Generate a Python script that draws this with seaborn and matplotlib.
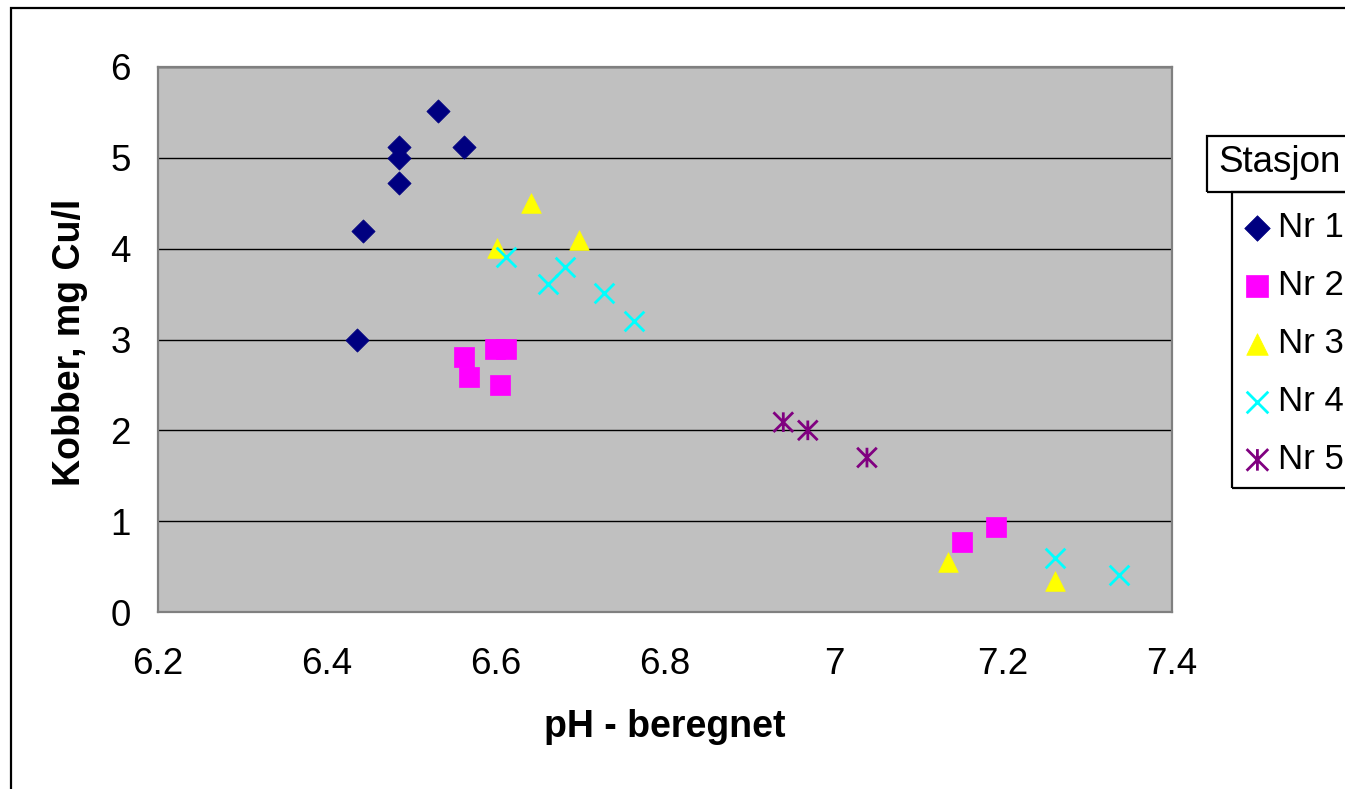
import numpy as np
import pandas as pd
import matplotlib
matplotlib.use('Agg')
import matplotlib.pyplot as plt
import matplotlib.path as mpath
from matplotlib.patches import Rectangle
import seaborn as sns

# Data: pH (x) and copper mg Cu/l (y) per station
ph_nr1 = [6.436, 6.443, 6.485, 6.485, 6.485, 6.531, 6.562]
cu_nr1 = [3.0, 4.2, 5.0, 5.12, 4.72, 5.52, 5.12]

ph_nr2 = [6.562, 6.568, 6.599, 6.612, 6.605, 7.151, 7.192]
cu_nr2 = [2.81, 2.59, 2.9, 2.9, 2.5, 0.77, 0.94]

ph_nr3 = [6.601, 6.641, 6.698, 7.135, 7.262]
cu_nr3 = [4.01, 4.5, 4.1, 0.55, 0.34]

ph_nr4 = [6.612, 6.662, 6.682, 6.728, 6.763, 7.262, 7.337]
cu_nr4 = [3.91, 3.61, 3.8, 3.51, 3.2, 0.59, 0.41]

ph_nr5 = [6.940, 6.969, 7.039]
cu_nr5 = [2.09, 2.0, 1.70]

stations = ['Nr 1', 'Nr 2', 'Nr 3', 'Nr 4', 'Nr 5']
x_ticks = [6.2, 6.4, 6.6, 6.8, 7.0, 7.2, 7.4]
x_tick_labels = ['6.2', '6.4', '6.6', '6.8', '7', '7.2', '7.4']
y_ticks = [0, 1, 2, 3, 4, 5, 6]

df = pd.concat([
    pd.DataFrame({'ph': ph_nr1, 'cu': cu_nr1, 'stasjon': 'Nr 1'}),
    pd.DataFrame({'ph': ph_nr2, 'cu': cu_nr2, 'stasjon': 'Nr 2'}),
    pd.DataFrame({'ph': ph_nr3, 'cu': cu_nr3, 'stasjon': 'Nr 3'}),
    pd.DataFrame({'ph': ph_nr4, 'cu': cu_nr4, 'stasjon': 'Nr 4'}),
    pd.DataFrame({'ph': ph_nr5, 'cu': cu_nr5, 'stasjon': 'Nr 5'}),
], ignore_index=True)

sns.set_theme(style='white')
plt.rcParams['font.family'] = ['Liberation Sans', 'DejaVu Sans']
plt.rcParams['text.color'] = 'black'
plt.rcParams['axes.labelcolor'] = 'black'
plt.rcParams['xtick.color'] = 'black'
plt.rcParams['ytick.color'] = 'black'

W, H = 1345, 789
fig = plt.figure(figsize=(W / 100, H / 100), dpi=100)
fig.patch.set_facecolor('white')

# plot area in pixels: x 158..1172, y 67..612
ax = fig.add_axes([158 / W, 1 - 612 / H, (1172 - 158) / W, (612 - 67) / H])
ax.set_facecolor('#C0C0C0')

# Excel-style star marker: X plus vertical line
star = mpath.Path([(-1, -1), (1, 1), (-1, 1), (1, -1), (0, -1), (0, 1)],
                  [1, 2, 1, 2, 1, 2])

styles = {
    'Nr 1': dict(marker='D', s=140, color='#000080', edgecolor='#000080', linewidth=0.5),
    'Nr 2': dict(marker='s', s=210, color='#FF00FF', edgecolor='#FF00FF', linewidth=0.5),
    'Nr 3': dict(marker='^', s=200, color='#FFFF00', edgecolor='#FFFF00', linewidth=0.5),
    'Nr 4': dict(marker='x', s=200, color='#00FFFF', linewidth=2.0),
    'Nr 5': dict(marker=star, s=200, color='#800080', edgecolor='#800080',
                 facecolor='none', linewidth=2.0),
}

for st in stations:
    sub = df[df['stasjon'] == st]
    sns.scatterplot(data=sub, x='ph', y='cu', ax=ax, label=st, legend=False,
                    zorder=3, clip_on=False, **styles[st])

ax.set_xlim(6.2, 7.4)
ax.set_ylim(0, 6)
ax.set_xticks(x_ticks)
ax.set_xticklabels(x_tick_labels)
ax.set_yticks(y_ticks)
ax.yaxis.grid(True, color='black', linewidth=1.0)
ax.xaxis.grid(False)
ax.set_axisbelow(True)

for sp in ax.spines.values():
    sp.set_color('#808080')
    sp.set_linewidth(1.6)
    sp.set_visible(True)

ax.tick_params(axis='both', direction='out', length=7.5, width=1.4,
               color='#808080', labelsize=26.5, labelcolor='black')
ax.tick_params(axis='x', pad=18)
ax.tick_params(axis='y', pad=12)

ax.set_xlabel('pH - beregnet', fontsize=27, fontweight='bold', va='center')
ax.set_ylabel('Kobber, mg Cu/l', fontsize=27, fontweight='bold', va='center')
ax.xaxis.set_label_coords(0.5, (612 - 727) / 545)
ax.yaxis.set_label_coords((70 - 158) / 1014, (612 - 342) / 545)


def px_rect(x0, y0, x1, y1, lw=1.5):
    r = Rectangle((x0 / W, 1 - y1 / H), (x1 - x0) / W, (y1 - y0) / H,
                  transform=fig.transFigure, fill=False, edgecolor='black',
                  linewidth=lw, clip_on=False)
    fig.add_artist(r)


# outer chart border
px_rect(11, 8, 1400, 900, lw=1.6)

# legend title box and entries box
px_rect(1207, 136, 1400, 192, lw=1.6)
px_rect(1232, 192, 1400, 488, lw=1.6)
fig.text(1218 / W, 1 - 163 / H, 'Stasjon', fontsize=26.5, va='center', ha='left')

handles, labels = ax.get_legend_handles_labels()
fig.legend(handles, labels, loc='upper left',
           bbox_to_anchor=(1247 / W, 1 - 211 / H), bbox_transform=fig.transFigure,
           frameon=False, fontsize=25, handlelength=0.6, handletextpad=0.28,
           labelspacing=0.72, borderpad=0, borderaxespad=0, scatterpoints=1,
           markerscale=1.1)

fig.savefig('out.png', dpi=100)
